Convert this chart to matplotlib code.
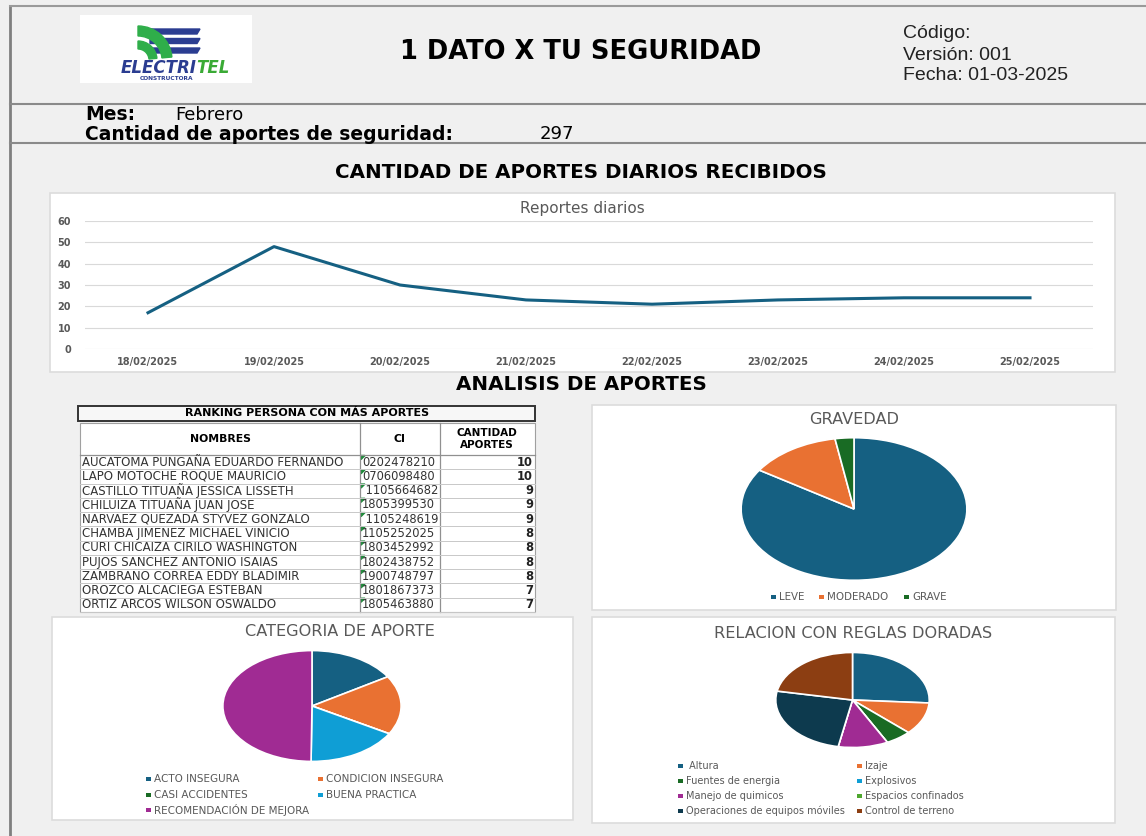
import matplotlib.pyplot as plt
from matplotlib.patches import Rectangle, Wedge, Polygon

# datos
fechas = ['18/02/2025', '19/02/2025', '20/02/2025', '21/02/2025',
          '22/02/2025', '23/02/2025', '24/02/2025', '25/02/2025']
reportes = [17, 48, 30, 23, 21, 23, 24, 24]

grav_labels = ['LEVE', 'MODERADO', 'GRAVE']
grav_vals = [250, 39, 8]

cat_labels = ['ACTO INSEGURA', 'CONDICION INSEGURA', 'CASI ACCIDENTES',
              'BUENA PRACTICA', 'RECOMENDACIÓN DE MEJORA']
cat_vals = [48, 51, 0, 50, 148]

reglas_labels = [' Altura', 'Izaje', 'Fuentes de energia', 'Explosivos',
                 'Manejo de quimicos', 'Espacios confinados',
                 'Operaciones de equipos móviles', 'Control de terreno']
reglas_vals = [52, 22, 11, 0, 21, 0, 50, 44]

nombres = ['AUCATOMA PUNGAÑA EDUARDO FERNANDO', 'LAPO MOTOCHE ROQUE MAURICIO',
           'CASTILLO TITUAÑA JESSICA LISSETH', 'CHILUIZA TITUAÑA JUAN JOSE',
           'NARVAEZ QUEZADA STYVEZ GONZALO', 'CHAMBA JIMENEZ MICHAEL VINICIO',
           'CURI CHICAIZA CIRILO WASHINGTON', 'PUJOS SANCHEZ ANTONIO ISAIAS',
           'ZAMBRANO CORREA EDDY BLADIMIR', 'OROZCO ALCACIEGA ESTEBAN',
           'ORTIZ ARCOS WILSON OSWALDO']
cedulas = ['0202478210', '0706098480', ' 1105664682', '1805399530', ' 1105248619',
           '1105252025', '1803452992', '1802438752', '1900748797', '1801867373',
           '1805463880']
cantidades = [10, 10, 9, 9, 9, 8, 8, 8, 8, 7, 7]

# colores tipo Office
c_azul = '#156082'
c_naranja = '#E97132'
c_verde = '#196B24'
c_celeste = '#0F9ED5'
c_morado = '#A02B93'
c_verde2 = '#4EA72E'
c_navy = '#0D3A4E'
c_cafe = '#8C3E12'
gris_txt = '#595959'

W, H = 1146, 836
fig = plt.figure(figsize=(W / 100, H / 100), dpi=100)
fig.patch.set_facecolor('#f0f0f0')

bg = fig.add_axes([0, 0, 1, 1])
bg.set_xlim(0, W)
bg.set_ylim(H, 0)
bg.axis('off')


def px_axes(x0, y0, x1, y1):
    return fig.add_axes([x0 / W, 1 - y1 / H, (x1 - x0) / W, (y1 - y0) / H])


# marco de la hoja
bg.plot([10, 10], [6, H], color='#7f7f7f', lw=2)
bg.plot([10, W], [6, 6], color='#9a9a9a', lw=1.5)
bg.plot([10, W], [104, 104], color='#8a8a8a', lw=1.5)
bg.plot([10, W], [143, 143], color='#8a8a8a', lw=1.5)

# logo
bg.add_patch(Rectangle((80, 15), 172, 68, facecolor='white', edgecolor='none'))
for y in [29, 38.5, 48]:
    bg.add_patch(Polygon([(150, y), (200, y), (197, y + 5), (150, y + 5)],
                         closed=True, color='#2b3d91'))
bg.add_patch(Wedge((138, 60), 34, 270, 355, width=10, color='#2fae4a'))
bg.add_patch(Wedge((138, 60), 19, 270, 355, width=8, color='#2fae4a'))
bg.text(197, 68, 'ELECTRI', ha='right', va='center', fontsize=12,
        fontweight='heavy', style='italic', color='#2b3d91', family='DejaVu Sans')
bg.text(196, 68, 'TEL', ha='left', va='center', fontsize=12,
        fontweight='heavy', style='italic', color='#3aaa35', family='DejaVu Sans')
bg.text(166, 79, 'CONSTRUCTORA', ha='center', va='center', fontsize=4.2,
        fontweight='bold', color='#2b3d91', family='DejaVu Sans')

# encabezado
bg.text(581, 52, '1 DATO X TU SEGURIDAD', ha='center', va='center', fontsize=18.5,
        fontweight='heavy', color='black', family='DejaVu Sans')
bg.text(903, 33, 'Código:', ha='left', va='center', fontsize=14,
        color='#222222', family='Liberation Sans')
bg.text(903, 55, 'Versión: 001', ha='left', va='center', fontsize=14,
        color='#222222', family='Liberation Sans')
bg.text(903, 75, 'Fecha: 01-03-2025', ha='left', va='center', fontsize=14,
        color='#222222', family='Liberation Sans')

bg.text(85, 115, 'Mes:', ha='left', va='center', fontsize=13.5,
        fontweight='bold', family='DejaVu Sans')
bg.text(175, 115, 'Febrero', ha='left', va='center', fontsize=13,
        family='DejaVu Sans')
bg.text(85, 134, 'Cantidad de aportes de seguridad:', ha='left', va='center',
        fontsize=13.5, fontweight='bold', family='DejaVu Sans')
bg.text(540, 134, '297', ha='left', va='center', fontsize=13,
        family='DejaVu Sans')

bg.text(581, 172, 'CANTIDAD DE APORTES DIARIOS RECIBIDOS', ha='center', va='center',
        fontsize=14.3, fontweight='bold', family='DejaVu Sans')
bg.text(581, 384, 'ANALISIS DE APORTES', ha='center', va='center',
        fontsize=14.3, fontweight='bold', family='DejaVu Sans')

# paneles blancos
for x0, y0, x1, y1 in [(50, 193, 1115, 372), (592, 405, 1116, 610),
                       (52, 617, 573, 820), (592, 617, 1115, 823)]:
    bg.add_patch(Rectangle((x0, y0), x1 - x0, y1 - y0, facecolor='white',
                           edgecolor='#dcdcdc', lw=1.2))

# grafico de lineas
ax = px_axes(85, 221, 1093, 349)
ax.set_facecolor('none')
ax.plot(range(len(reportes)), reportes, color=c_azul, lw=2.2,
        solid_joinstyle='round')
ax.set_xlim(-0.5, len(reportes) - 0.5)
ax.set_ylim(0, 60)
ax.set_yticks(range(0, 61, 10))
ax.set_xticks(range(len(fechas)))
ax.set_xticklabels(fechas)
ax.grid(axis='y', color='#d9d9d9', lw=0.8)
ax.set_axisbelow(True)
for s in ax.spines.values():
    s.set_visible(False)
ax.tick_params(length=0, labelsize=7, labelcolor=gris_txt, pad=6)
ax.tick_params(axis='y', pad=10)
for t in ax.get_xticklabels() + ax.get_yticklabels():
    t.set_fontweight('bold')
    t.set_family('DejaVu Sans')
bg.text(582, 208, 'Reportes diarios', ha='center', va='center', fontsize=11,
        color=gris_txt, family='DejaVu Sans')

# tabla ranking
bg.add_patch(Rectangle((78, 406), 457, 15, facecolor='#f7f7f7',
                       edgecolor='#333333', lw=1.4))
bg.text(307, 413.5, 'RANKING PERSONA CON MÁS APORTES', ha='center', va='center',
        fontsize=8, fontweight='bold', family='DejaVu Sans')
bg.add_patch(Rectangle((80, 423), 455, 189, facecolor='white',
                       edgecolor='#a0a0a0', lw=0.8))
bg.text(220, 439, 'NOMBRES', ha='center', va='center', fontsize=7.8,
        fontweight='bold', family='DejaVu Sans')
bg.text(400, 439, 'CI', ha='center', va='center', fontsize=7.8,
        fontweight='bold', family='DejaVu Sans')
bg.text(487, 439, 'CANTIDAD\nAPORTES', ha='center', va='center', fontsize=7.5,
        fontweight='bold', family='DejaVu Sans', linespacing=1.3)
for xv in [360, 440]:
    bg.plot([xv, xv], [423, 612], color='#909090', lw=0.9)
y_top = 455
row_h = (612 - 455) / len(nombres)
bg.plot([80, 535], [y_top, y_top], color='#909090', lw=0.9)
for i, (n, c, q) in enumerate(zip(nombres, cedulas, cantidades)):
    yc = y_top + (i + 0.5) * row_h
    bg.text(82, yc, n, ha='left', va='center', fontsize=8.5,
            family='DejaVu Sans', color='#333333')
    bg.text(362, yc, c, ha='left', va='center', fontsize=8.3,
            family='DejaVu Sans', color='#333333')
    bg.text(533, yc, str(q), ha='right', va='center', fontsize=8.3,
            fontweight='bold', family='DejaVu Sans', color='#222222')
    yb = y_top + (i + 1) * row_h
    bg.plot([80, 535], [yb, yb], color='#c8c8c8', lw=0.7)
    bg.add_patch(Polygon([(361, yb - row_h + 0.5), (365, yb - row_h + 0.5),
                          (361, yb - row_h + 4.5)], closed=True, color='#1e8a3a'))


def legend_items(labels, colors, xs, y0, dy, ncol, size):
    for i, (lab, col) in enumerate(zip(labels, colors)):
        x = xs[i % ncol]
        y = y0 + (i // ncol) * dy
        bg.add_patch(Rectangle((x - 2.5, y - 2), 5, 4, color=col, lw=0))
        bg.text(x + 6, y, lab, ha='left', va='center', fontsize=size,
                color=gris_txt, family='DejaVu Sans')


def pie_axes(box, vals, colors):
    pa = px_axes(*box)
    pa.pie(vals, colors=colors, startangle=90, counterclock=False,
           wedgeprops=dict(edgecolor='white', linewidth=1.2))
    pa.set_aspect('auto')
    pa.set_xlim(-1.01, 1.01)
    pa.set_ylim(-1.01, 1.01)
    return pa


# gravedad
grav_cols = [c_azul, c_naranja, c_verde]
pie_axes((740, 437, 968, 581), grav_vals, grav_cols)
bg.text(854, 419, 'GRAVEDAD', ha='center', va='center', fontsize=11.6,
        color=gris_txt, family='DejaVu Sans')
for lab, col, x in zip(grav_labels, grav_cols, [773, 821, 906]):
    bg.add_patch(Rectangle((x - 2.5, 597 - 2), 5, 4, color=col, lw=0))
    bg.text(x + 6, 597, lab, ha='left', va='center', fontsize=7.4,
            color=gris_txt, family='DejaVu Sans')

# categoria
cat_cols = [c_azul, c_naranja, c_verde, c_celeste, c_morado]
pie_axes((222, 650, 402, 762), cat_vals, cat_cols)
bg.text(340, 631, 'CATEGORIA DE APORTE', ha='center', va='center', fontsize=11.6,
        color=gris_txt, family='DejaVu Sans')
legend_items(cat_labels, cat_cols, [148, 320], 779, 15.5, 2, 7.5)

# reglas doradas
reg_cols = [c_azul, c_naranja, c_verde, c_celeste, c_morado, c_verde2, c_navy, c_cafe]
pie_axes((775, 652, 930, 748), reglas_vals, reg_cols)
bg.text(853, 633, 'RELACION CON REGLAS DORADAS', ha='center', va='center',
        fontsize=11.6, color=gris_txt, family='DejaVu Sans')
legend_items(reglas_labels, reg_cols, [680, 859], 766, 15, 2, 7)

fig.savefig('out.png', dpi=100, facecolor=fig.get_facecolor())
